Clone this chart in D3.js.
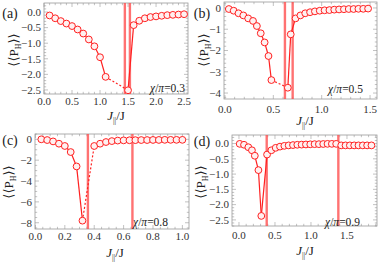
<!DOCTYPE html>
<html><head><meta charset="utf-8">
<script src="https://cdn.jsdelivr.net/npm/d3@7"></script>
<style>body{margin:0;background:#fff}svg{display:block}</style>
</head><body>
<script>
// ---------- data ----------
const aX=[0.1,0.2,0.3,0.4,0.5,0.6,0.7,0.8,0.9,1.0,1.1,1.5,1.6,1.7,1.8,1.9,2.0,2.1,2.2,2.3,2.4,2.5];
const aY=[-0.11,-0.2,-0.29,-0.37,-0.45,-0.56,-0.69,-0.88,-1.1,-1.45,-2.08,-2.51,-0.42,-0.28,-0.2,-0.16,-0.14,-0.12,-0.1,-0.09,-0.08,-0.07];
const aV=[1.443,1.533];
const aDash=[1.1,1.5];

const bX=[0.04,0.09,0.14,0.19,0.24,0.29,0.33,0.37,0.41,0.45,0.48,0.65,0.68,0.73,0.78,0.83,0.88,0.93,0.98,1.03,1.08,1.13,1.18,1.23,1.28,1.33,1.38,1.43,1.48];
const bY=[-0.05,-0.13,-0.25,-0.35,-0.49,-0.61,-0.85,-1.19,-1.62,-2.26,-3.39,-3.75,-1.24,-0.49,-0.35,-0.25,-0.2,-0.16,-0.13,-0.11,-0.1,-0.08,-0.07,-0.06,-0.05,-0.05,-0.04,-0.04,-0.03];
const bV=[0.62,0.70];
const bDash=[0.48,0.65];

const cX=[0.04,0.08,0.12,0.16,0.20,0.24,0.28,0.32,0.40,0.44,0.48,0.52,0.56,0.60,0.64,0.68,0.72,0.76,0.80,0.84,0.88,0.92,0.96,1.0];
const cY=[0,-0.07,-0.2,-0.42,-0.64,-1.22,-2.6,-7.8,-0.64,-0.42,-0.26,-0.17,-0.12,-0.1,-0.09,-0.08,-0.07,-0.07,-0.06,-0.06,-0.05,-0.05,-0.05,-0.05];
const cV=[0.357,0.66];
const cDash=[0.32,0.40];

const dX=[0.01,0.07,0.13,0.18,0.22,0.27,0.31,0.39,0.45,0.51,0.57,0.63,0.69,0.75,0.81,0.87,0.93,0.99,1.05,1.11,1.17,1.23,1.29,1.35,1.42,1.48,1.54,1.60,1.66,1.72,1.78,1.84];
const dY=[-0.01,-0.04,-0.12,-0.22,-0.4,-0.87,-2.37,-0.36,-0.22,-0.14,-0.1,-0.075,-0.06,-0.05,-0.04,-0.035,-0.03,-0.025,-0.02,-0.02,-0.015,-0.01,-0.01,-0.01,-0.06,-0.06,-0.06,-0.06,-0.06,-0.06,-0.06,-0.06];
const dV=[0.385,1.38];
const dDash=null;

const aXTicks=[0,0.5,1.0,1.5,2.0,2.5], aYTicks=[0,-0.5,-1.0,-1.5,-2.0,-2.5];
const bXTicks=[0,0.5,1.0,1.5], bYTicks=[0,-1,-2,-3,-4];
const cXTicks=[0,0.2,0.4,0.6,0.8,1.0], cYTicks=[0,-2,-4,-6,-8];
const dXTicks=[0,0.5,1.0,1.5], dYTicks=[0,-0.5,-1.0,-1.5,-2.0,-2.5];
const chiLabels=["0.3","0.5","0.8","0.9"];
const panelLabels=["(a)","(b)","(c)","(d)"];

// ---------- layout ----------
const W=381,H=265;
const svg=d3.select("body").append("svg").attr("width",W).attr("height",H);
const serif="'Liberation Serif','DejaVu Serif',serif";
const RED="#ff2020", FRAME="#999", TXT="#333";

const panels=[
 {X:aX,Y:aY,V:aV,dash:aDash,xt:aXTicks,yt:aYTicks,xf:".1f",yf:".1f",xm:0.1,ym:0.1,
  box:{l:44,r:188,t:3,b:94},xd:[0,2.57],yd:[-2.63,0.29],lab:[10,18],ylab:[13,50],xlab:[116,120],xtb:105,chi:[185,92]},
 {X:bX,Y:bY,V:bV,dash:bDash,xt:bXTicks,yt:bYTicks,xf:".1f",yf:"d",xm:0.1,ym:0.2,
  box:{l:224,r:377,t:2,b:99},xd:[-0.01,1.572],yd:[-4.28,0.28],lab:[202,18],ylab:[203,50],xlab:[305,125],xtb:113,chi:[363,93]},
 {X:cX,Y:cY,V:cV,dash:cDash,xt:cXTicks,yt:cYTicks,xf:".1f",yf:"d",xm:0.05,ym:0.5,
  box:{l:35,r:189,t:134,b:229},xd:[-0.003,1.045],yd:[-8.6,0.51],lab:[10,145],ylab:[8,182],xlab:[115,257],xtb:240,chi:[168,226]},
 {X:dX,Y:dY,V:dV,dash:dDash,xt:dXTicks,yt:dYTicks,xf:".1f",yf:".1f",xm:0.1,ym:0.1,
  box:{l:232,r:377,t:135,b:226},xd:[-0.097,1.917],yd:[-2.7,0.28],lab:[202,146],ylab:[200,182],xlab:[305,255],xtb:239,chi:[360,226]}
];

function fmt(f,v){ if(Math.abs(v)<1e-9) v=0; const s=d3.format(f)(v); return s.replace("-","\u2212"); }
function rangeStep(a,b,s){const o=[];const n0=Math.ceil(a/s-1e-6),n1=Math.floor(b/s+1e-6);for(let i=n0;i<=n1;i++)o.push(+(i*s).toFixed(6));return o;}

panels.forEach((p,i)=>{
  const g=svg.append("g");
  const x=d3.scaleLinear().domain(p.xd).range([p.box.l,p.box.r]);
  const y=d3.scaleLinear().domain(p.yd).range([p.box.b,p.box.t]);
  const fr=g.append("g");
  const xMinor=rangeStep(p.xd[0],p.xd[1],p.xm), yMinor=rangeStep(p.yd[0],p.yd[1],p.ym);
  const isMaj=(arr,v)=>arr.some(t=>Math.abs(t-v)<1e-6);
  xMinor.forEach(v=>{const L=isMaj(p.xt,v)?4:2.2;
    fr.append("line").attr("x1",x(v)).attr("x2",x(v)).attr("y1",p.box.b).attr("y2",p.box.b-L).attr("stroke",FRAME).attr("stroke-width",0.6);
    fr.append("line").attr("x1",x(v)).attr("x2",x(v)).attr("y1",p.box.t).attr("y2",p.box.t+L).attr("stroke",FRAME).attr("stroke-width",0.6);});
  yMinor.forEach(v=>{const L=isMaj(p.yt,v)?4:2.2;
    fr.append("line").attr("y1",y(v)).attr("y2",y(v)).attr("x1",p.box.l).attr("x2",p.box.l+L).attr("stroke",FRAME).attr("stroke-width",0.6);
    fr.append("line").attr("y1",y(v)).attr("y2",y(v)).attr("x1",p.box.r).attr("x2",p.box.r-L).attr("stroke",FRAME).attr("stroke-width",0.6);});
  fr.append("rect").attr("x",p.box.l).attr("y",p.box.t).attr("width",p.box.r-p.box.l).attr("height",p.box.b-p.box.t)
    .attr("fill","none").attr("stroke",FRAME).attr("stroke-width",0.8);
  p.xt.forEach(v=>g.append("text").attr("x",x(v)).attr("y",p.xtb).attr("text-anchor","middle")
    .attr("font-family",serif).attr("font-size",11).attr("fill",TXT).text(fmt(p.xf,v)));
  p.yt.forEach(v=>g.append("text").attr("x",p.box.l-3).attr("y",y(v)).attr("dy","0.35em").attr("text-anchor","end")
    .attr("font-family",serif).attr("font-size",11).attr("fill",TXT).text(fmt(p.yf,v)));
  p.V.forEach(v=>g.append("line").attr("x1",x(v)).attr("x2",x(v)).attr("y1",p.box.t).attr("y2",p.box.b)
    .attr("stroke","#ff5050").attr("stroke-width",2.4).attr("opacity",0.8));
  for(let k=0;k<p.X.length-1;k++){
    const dashed=p.dash && Math.abs(p.X[k]-p.dash[0])<1e-9 && Math.abs(p.X[k+1]-p.dash[1])<1e-9;
    g.append("line").attr("x1",x(p.X[k])).attr("y1",y(p.Y[k])).attr("x2",x(p.X[k+1])).attr("y2",y(p.Y[k+1]))
      .attr("stroke",RED).attr("stroke-width",1.2).attr("stroke-dasharray",dashed?"2,2":null);
  }
  g.selectAll("circle.pt").data(p.X.map((v,k)=>[v,p.Y[k]])).enter().append("circle")
    .attr("cx",d=>x(d[0])).attr("cy",d=>y(d[1])).attr("r",3.4)
    .attr("fill","#fff0f0").attr("stroke",RED).attr("stroke-width",1);
  g.append("text").attr("x",p.lab[0]).attr("y",p.lab[1]).attr("text-anchor","middle").attr("font-family",serif)
    .attr("font-size",14).attr("fill","#222").text(panelLabels[i]);
  const yl=g.append("text").attr("transform",`translate(${p.ylab[0]},${p.ylab[1]}) rotate(-90)`).attr("text-anchor","middle")
    .attr("dy","0.35em").attr("font-family",serif).attr("font-size",13).attr("fill","#222");
  yl.append("tspan").text("\u27E8\u27E8P");
  yl.append("tspan").attr("font-size",8).attr("dy",3).text("H");
  yl.append("tspan").attr("dy",-3).text("\u27E9\u27E9");
  const xl=g.append("text").attr("x",p.xlab[0]).attr("y",p.xlab[1]).attr("text-anchor","middle")
    .attr("font-family",serif).attr("font-size",13).attr("fill","#222");
  xl.append("tspan").attr("font-style","italic").text("J");
  xl.append("tspan").attr("font-size",8).attr("dy",3).text("||");
  xl.append("tspan").attr("dy",-3).text("/J");
  const ct=g.append("text").attr("x",p.chi[0]).attr("y",p.chi[1]).attr("text-anchor","end")
    .attr("font-family",serif).attr("font-size",11.5).attr("fill","#222");
  ct.append("tspan").attr("font-style","italic").text("\u03C7");
  ct.append("tspan").text("/");
  ct.append("tspan").attr("font-style","italic").text("\u03C0");
  ct.append("tspan").text("=" + chiLabels[i]);
});
</script>
</body></html>
